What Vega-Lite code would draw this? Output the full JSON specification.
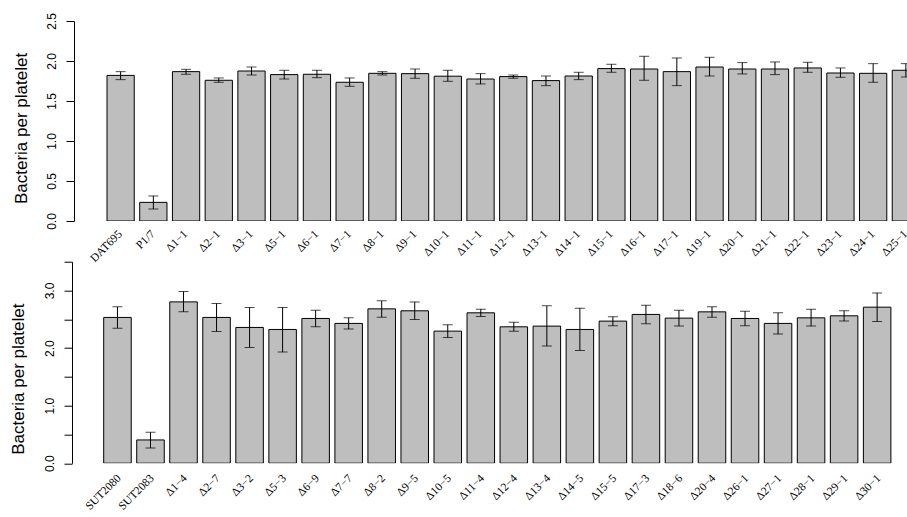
{
  "$schema": "https://vega.github.io/schema/vega-lite/v6.json",
  "background": "white",
  "padding": {"left": 8, "top": 12, "right": 0, "bottom": 0},
  "config": {
    "view": {"stroke": null},
    "axisX": {"title": null, "domain": false, "ticks": false, "tickSize": 0, "labelAngle": -45, "labelAlign": "right", "labelBaseline": "middle", "labelFont": "Liberation Serif", "labelFontSize": 11.5, "labelColor": "black", "labelOverlap": false}
  },
  "bounds": "flush",
  "spacing": 40.7,
  "datasets": {
    "top": [
      {"strain": "DAT695", "mean": 1.82, "lo": 1.767, "hi": 1.867},
      {"strain": "P1/7", "mean": 0.233, "lo": 0.15, "hi": 0.313},
      {"strain": "Δ1−1", "mean": 1.867, "lo": 1.834, "hi": 1.896},
      {"strain": "Δ2−1", "mean": 1.759, "lo": 1.734, "hi": 1.788},
      {"strain": "Δ3−1", "mean": 1.875, "lo": 1.825, "hi": 1.925},
      {"strain": "Δ5−1", "mean": 1.83, "lo": 1.775, "hi": 1.884},
      {"strain": "Δ6−1", "mean": 1.834, "lo": 1.792, "hi": 1.884},
      {"strain": "Δ7−1", "mean": 1.734, "lo": 1.684, "hi": 1.788},
      {"strain": "Δ8−1", "mean": 1.846, "lo": 1.825, "hi": 1.867},
      {"strain": "Δ9−1", "mean": 1.842, "lo": 1.784, "hi": 1.9},
      {"strain": "Δ10−1", "mean": 1.81, "lo": 1.746, "hi": 1.884},
      {"strain": "Δ11−1", "mean": 1.775, "lo": 1.713, "hi": 1.842},
      {"strain": "Δ12−1", "mean": 1.805, "lo": 1.784, "hi": 1.825},
      {"strain": "Δ13−1", "mean": 1.755, "lo": 1.692, "hi": 1.8125},
      {"strain": "Δ14−1", "mean": 1.8125, "lo": 1.767, "hi": 1.859},
      {"strain": "Δ15−1", "mean": 1.905, "lo": 1.859, "hi": 1.959},
      {"strain": "Δ16−1", "mean": 1.9, "lo": 1.759, "hi": 2.059},
      {"strain": "Δ17−1", "mean": 1.867, "lo": 1.692, "hi": 2.038},
      {"strain": "Δ19−1", "mean": 1.925, "lo": 1.8125, "hi": 2.046},
      {"strain": "Δ20−1", "mean": 1.9, "lo": 1.838, "hi": 1.98},
      {"strain": "Δ21−1", "mean": 1.9, "lo": 1.83, "hi": 1.988},
      {"strain": "Δ22−1", "mean": 1.913, "lo": 1.859, "hi": 1.984},
      {"strain": "Δ23−1", "mean": 1.85, "lo": 1.796, "hi": 1.913},
      {"strain": "Δ24−1", "mean": 1.846, "lo": 1.734, "hi": 1.967},
      {"strain": "Δ25−1", "mean": 1.884, "lo": 1.8, "hi": 1.967}
    ],
    "bottom": [
      {"strain": "SUT2080", "mean": 2.532, "lo": 2.346, "hi": 2.716},
      {"strain": "SUT2083", "mean": 0.404, "lo": 0.265, "hi": 0.537},
      {"strain": "Δ1−4", "mean": 2.802, "lo": 2.629, "hi": 2.982},
      {"strain": "Δ2−7", "mean": 2.532, "lo": 2.289, "hi": 2.774},
      {"strain": "Δ3−2", "mean": 2.358, "lo": 2.011, "hi": 2.705},
      {"strain": "Δ5−3", "mean": 2.323, "lo": 1.93, "hi": 2.705},
      {"strain": "Δ6−9", "mean": 2.514, "lo": 2.369, "hi": 2.658},
      {"strain": "Δ7−7", "mean": 2.428, "lo": 2.329, "hi": 2.525},
      {"strain": "Δ8−2", "mean": 2.681, "lo": 2.537, "hi": 2.82},
      {"strain": "Δ9−5", "mean": 2.647, "lo": 2.497, "hi": 2.802},
      {"strain": "Δ10−5", "mean": 2.294, "lo": 2.185, "hi": 2.404},
      {"strain": "Δ11−4", "mean": 2.612, "lo": 2.549, "hi": 2.676},
      {"strain": "Δ12−4", "mean": 2.369, "lo": 2.294, "hi": 2.45},
      {"strain": "Δ13−4", "mean": 2.381, "lo": 2.034, "hi": 2.733},
      {"strain": "Δ14−5", "mean": 2.323, "lo": 1.959, "hi": 2.693},
      {"strain": "Δ15−5", "mean": 2.468, "lo": 2.386, "hi": 2.543},
      {"strain": "Δ17−3", "mean": 2.584, "lo": 2.421, "hi": 2.745},
      {"strain": "Δ18−6", "mean": 2.52, "lo": 2.381, "hi": 2.658},
      {"strain": "Δ20−4", "mean": 2.629, "lo": 2.537, "hi": 2.716},
      {"strain": "Δ26−1", "mean": 2.514, "lo": 2.386, "hi": 2.641},
      {"strain": "Δ27−1", "mean": 2.428, "lo": 2.242, "hi": 2.612},
      {"strain": "Δ28−1", "mean": 2.525, "lo": 2.381, "hi": 2.676},
      {"strain": "Δ29−1", "mean": 2.56, "lo": 2.468, "hi": 2.647},
      {"strain": "Δ30−1", "mean": 2.71, "lo": 2.462, "hi": 2.958}
    ]
  },
  "vconcat": [
    {
      "width": 834,
      "height": 200,
      "data": {"name": "top"},
      "encoding": {
        "x": {
          "field": "strain", "type": "nominal", "sort": null,
          "scale": {"range": [33, 845.5], "paddingInner": 0.1667, "paddingOuter": 0},
          "axis": {"labelPadding": 11}
        },
        "y": {
          "field": "mean", "type": "quantitative", "scale": {"domain": [0, 2.5], "nice": false},
          "axis": {"title": "Bacteria per platelet", "titleFont": "Liberation Sans", "titleFontSize": 17, "titleFontWeight": "normal", "titleColor": "black", "titleAngle": -90, "titleBaseline": "alphabetic", "titleAlign": "center", "titleX": -48, "titleY": 107, "values": [0, 0.5, 1, 1.5, 2, 2.5], "format": ".1f", "labelFont": "Liberation Sans", "labelFontSize": 12, "labelAngle": 270, "labelAlign": "center", "labelBaseline": "alphabetic", "labelPadding": 11, "labelColor": "black", "tickSize": 8, "tickColor": "black", "domainColor": "black", "grid": false, "labelFlush": false, "labelOverlap": false}
        }
      },
      "layer": [
        {
          "mark": {"type": "bar", "fill": "#bebebe", "stroke": "black", "strokeWidth": 1, "clip": true}
        },
        {
          "mark": {"type": "errorbar", "color": "black", "ticks": {"size": 10, "thickness": 1, "color": "black"}, "rule": {"strokeWidth": 1}, "clip": true},
          "encoding": {"y": {"field": "lo", "type": "quantitative"}, "y2": {"field": "hi"}}
        }
      ]
    },
    {
      "width": 834,
      "height": 201.5,
      "data": {"name": "bottom"},
      "encoding": {
        "x": {
          "field": "strain", "type": "nominal", "sort": null,
          "scale": {"range": [29.7, 816.9], "paddingInner": 0.1667, "paddingOuter": 0},
          "axis": {"labelPadding": 13, "labelOffset": 2}
        },
        "y": {
          "field": "mean", "type": "quantitative", "scale": {"domain": [0, 3.5], "nice": false},
          "axis": {"title": "Bacteria per platelet", "offset": 2, "titleFont": "Liberation Sans", "titleFontSize": 17, "titleFontWeight": "normal", "titleColor": "black", "titleAngle": -90, "titleBaseline": "alphabetic", "titleAlign": "center", "titleX": -49, "titleY": 117, "values": [0, 0.5, 1, 1.5, 2, 2.5, 3, 3.5], "labelExpr": "datum.value % 1 === 0 ? format(datum.value, '.1f') : ''", "labelFont": "Liberation Sans", "labelFontSize": 12, "labelAngle": 270, "labelAlign": "center", "labelBaseline": "alphabetic", "labelPadding": 11, "labelColor": "black", "tickSize": 8, "tickColor": "black", "domainColor": "black", "grid": false, "labelFlush": false, "labelOverlap": false}
        }
      },
      "layer": [
        {
          "mark": {"type": "bar", "fill": "#bebebe", "stroke": "black", "strokeWidth": 1, "clip": true}
        },
        {
          "mark": {"type": "errorbar", "color": "black", "ticks": {"size": 10, "thickness": 1, "color": "black"}, "rule": {"strokeWidth": 1}, "clip": true},
          "encoding": {"y": {"field": "lo", "type": "quantitative"}, "y2": {"field": "hi"}}
        }
      ]
    }
  ]
}
